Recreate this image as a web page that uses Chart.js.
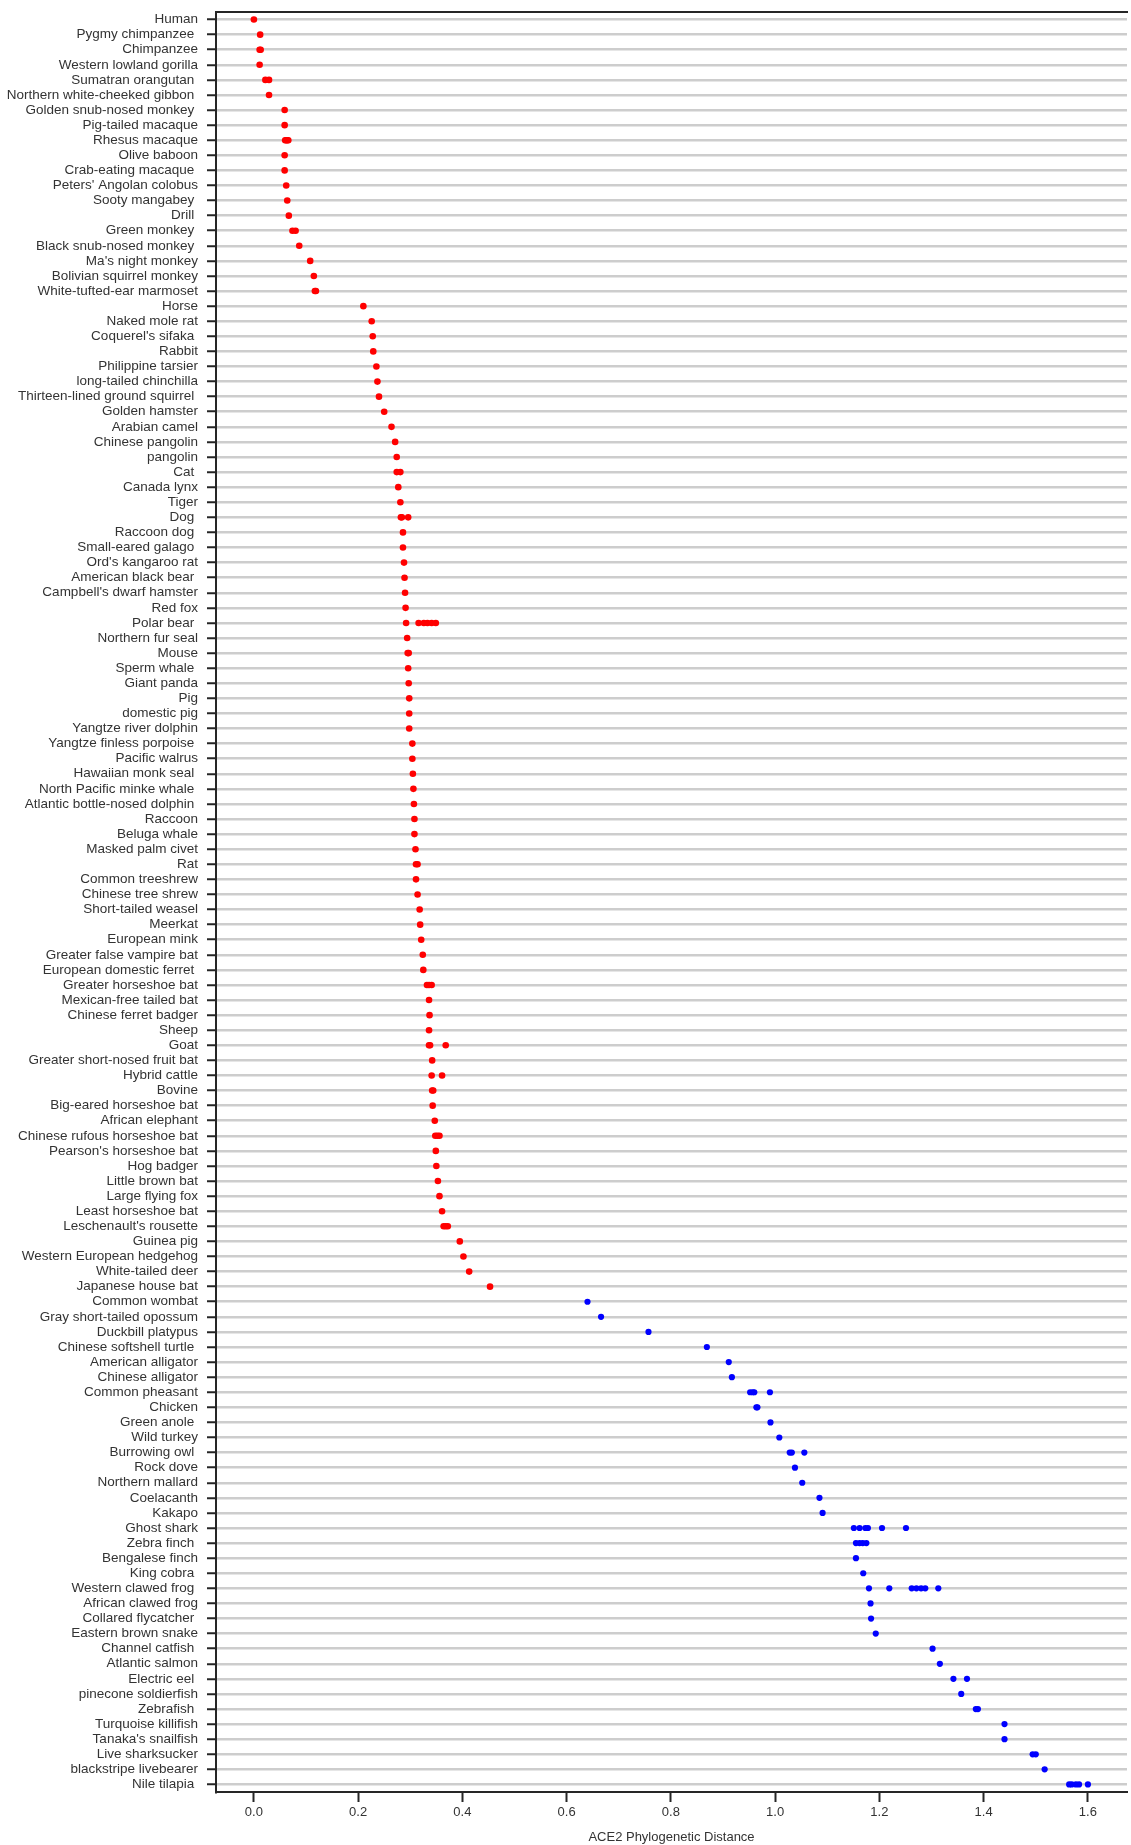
<!DOCTYPE html>
<html>
<head>
<meta charset="utf-8">
<script src="https://cdn.jsdelivr.net/npm/chart.js@4.4.0/dist/chart.umd.min.js"></script>
<style>
  body { margin: 0; background: #fff; }
</style>
</head>
<body>
<canvas id="chart" width="1131" height="1845"></canvas>
<script>
// species drawn in red (top group)
const speciesRed = [
  'Human', 'Pygmy chimpanzee ', 'Chimpanzee', 'Western lowland gorilla', 'Sumatran orangutan ',
  'Northern white-cheeked gibbon ', 'Golden snub-nosed monkey ', 'Pig-tailed macaque', 'Rhesus macaque',
  'Olive baboon', 'Crab-eating macaque ', "Peters' Angolan colobus", 'Sooty mangabey ', 'Drill ',
  'Green monkey ', 'Black snub-nosed monkey ', "Ma's night monkey", 'Bolivian squirrel monkey',
  'White-tufted-ear marmoset', 'Horse', 'Naked mole rat', "Coquerel's sifaka ", 'Rabbit',
  'Philippine tarsier', 'long-tailed chinchilla', 'Thirteen-lined ground squirrel ', 'Golden hamster',
  'Arabian camel', 'Chinese pangolin', 'pangolin', 'Cat ', 'Canada lynx', 'Tiger', 'Dog ',
  'Raccoon dog ', 'Small-eared galago ', "Ord's kangaroo rat", 'American black bear ',
  "Campbell's dwarf hamster", 'Red fox', 'Polar bear ', 'Northern fur seal', 'Mouse', 'Sperm whale ',
  'Giant panda', 'Pig', 'domestic pig', 'Yangtze river dolphin', 'Yangtze finless porpoise ',
  'Pacific walrus', 'Hawaiian monk seal ', 'North Pacific minke whale ', 'Atlantic bottle-nosed dolphin ',
  'Raccoon', 'Beluga whale', 'Masked palm civet', 'Rat', 'Common treeshrew', 'Chinese tree shrew',
  'Short-tailed weasel', 'Meerkat', 'European mink', 'Greater false vampire bat',
  'European domestic ferret ', 'Greater horseshoe bat', 'Mexican-free tailed bat', 'Chinese ferret badger',
  'Sheep', 'Goat', 'Greater short-nosed fruit bat', 'Hybrid cattle', 'Bovine', 'Big-eared horseshoe bat',
  'African elephant', 'Chinese rufous horseshoe bat', "Pearson's horseshoe bat", 'Hog badger',
  'Little brown bat', 'Large flying fox', 'Least horseshoe bat', "Leschenault's rousette", 'Guinea pig',
  'Western European hedgehog', 'White-tailed deer', 'Japanese house bat'
];
const distRed = [
  [0.0], [0.012], [0.011, 0.013], [0.011], [0.022, 0.029],
  [0.029], [0.059], [0.059], [0.060, 0.062, 0.064, 0.066],
  [0.059], [0.059], [0.062], [0.064], [0.067],
  [0.074, 0.080], [0.087], [0.108], [0.115],
  [0.117, 0.119], [0.210], [0.226], [0.228], [0.229],
  [0.235], [0.237], [0.240], [0.250],
  [0.264], [0.271], [0.274], [0.274, 0.281], [0.277], [0.281], [0.282, 0.284, 0.296],
  [0.286], [0.286], [0.288], [0.289],
  [0.290], [0.291], [0.292, 0.316, 0.326, 0.333, 0.341, 0.349], [0.294], [0.295, 0.297], [0.296],
  [0.297], [0.298], [0.298], [0.298], [0.304],
  [0.304], [0.305], [0.306], [0.307],
  [0.308], [0.308], [0.310], [0.311, 0.314], [0.311], [0.314],
  [0.318], [0.319], [0.321], [0.324],
  [0.325], [0.332, 0.336, 0.341], [0.336], [0.337],
  [0.336], [0.336, 0.338, 0.368], [0.342], [0.341, 0.361], [0.342, 0.344], [0.343],
  [0.347], [0.348, 0.352, 0.356], [0.349], [0.350],
  [0.353], [0.356], [0.361], [0.364, 0.368, 0.372], [0.395],
  [0.402], [0.413], [0.453]
];

// species drawn in blue (bottom group)
const speciesBlue = [
  'Common wombat', 'Gray short-tailed opossum', 'Duckbill platypus', 'Chinese softshell turtle ',
  'American alligator', 'Chinese alligator', 'Common pheasant', 'Chicken', 'Green anole ', 'Wild turkey',
  'Burrowing owl ', 'Rock dove', 'Northern mallard', 'Coelacanth', 'Kakapo', 'Ghost shark',
  'Zebra finch ', 'Bengalese finch', 'King cobra ', 'Western clawed frog ', 'African clawed frog',
  'Collared flycatcher ', 'Eastern brown snake', 'Channel catfish ', 'Atlantic salmon', 'Electric eel ',
  'pinecone soldierfish', 'Zebrafish ', 'Turquoise killifish', "Tanaka's snailfish", 'Live sharksucker',
  'blackstripe livebearer', 'Nile tilapia '
];
const distBlue = [
  [0.640], [0.666], [0.757], [0.869],
  [0.911], [0.917], [0.952, 0.957, 0.960, 0.990], [0.964, 0.966], [0.991], [1.008],
  [1.028, 1.032, 1.056], [1.038], [1.052], [1.085], [1.091], [1.151, 1.162, 1.173, 1.178, 1.205, 1.251],
  [1.155, 1.162, 1.168, 1.175], [1.155], [1.169], [1.180, 1.219, 1.262, 1.271, 1.280, 1.288, 1.313], [1.183],
  [1.184], [1.193], [1.302], [1.316], [1.342, 1.368],
  [1.357], [1.385, 1.389], [1.440], [1.440], [1.494, 1.500],
  [1.517], [1.564, 1.569, 1.577, 1.583, 1.600]
];

const xTicks = [0, 0.2, 0.4, 0.6, 0.8, 1.0, 1.2, 1.4, 1.6];
const xMin = -0.0727;
const xMax = 1.675;

function toPoints(names, dists) {
  const pts = [];
  names.forEach((name, i) => {
    dists[i].forEach(v => pts.push({ x: v, y: name }));
  });
  return pts;
}

Chart.defaults.font.family = "'Liberation Sans', Arial, sans-serif";
Chart.defaults.font.size = 13.5;
Chart.defaults.color = '#333';

const axisColor = '#262626';

new Chart(document.getElementById('chart'), {
  type: 'scatter',
  data: {
    labels: speciesRed.concat(speciesBlue),
    datasets: [
      {
        data: toPoints(speciesRed, distRed),
        backgroundColor: '#ff0000',
        borderWidth: 0,
        pointRadius: 3.3
      },
      {
        data: toPoints(speciesBlue, distBlue),
        backgroundColor: '#0000ff',
        borderWidth: 0,
        pointRadius: 3.1
      }
    ]
  },
  options: {
    responsive: false,
    animation: false,
    events: [],
    layout: { padding: { left: 0, right: 1, top: 0, bottom: 0 } },
    plugins: {
      legend: { display: false },
      tooltip: { enabled: false }
    },
    scales: {
      x: {
        type: 'linear',
        position: 'bottom',
        min: xMin,
        max: xMax,
        afterBuildTicks: s => { s.ticks = xTicks.map(v => ({ value: v })); },
        afterFit: s => { s.height = 53; },
        grid: { drawOnChartArea: false, tickLength: 10, tickColor: axisColor, tickWidth: 2 },
        border: { color: axisColor, width: 2 },
        ticks: { padding: 3, font: { size: 13 }, callback: v => v.toFixed(1) },
        title: {
          display: true,
          text: 'ACE2 Phylogenetic Distance',
          font: { size: 13 },
          padding: { top: 0, bottom: 0 }
        }
      },
      xTop: {
        type: 'linear',
        position: 'top',
        min: xMin,
        max: xMax,
        afterFit: s => { s.height = 12; },
        grid: { display: false, drawTicks: false },
        ticks: { display: false },
        border: { color: axisColor, width: 2 }
      },
      y: {
        type: 'category',
        offset: true,
        afterFit: s => {
          s.width = 216;
          s.paddingTop = 0;
          s.paddingBottom = 0;
        },
        grid: {
          offset: false,
          color: '#cdcdcd',
          lineWidth: 2.5,
          tickLength: 9,
          tickColor: axisColor,
          tickWidth: 2
        },
        border: { color: axisColor, width: 2 },
        ticks: { autoSkip: false, padding: 9 }
      }
    }
  }
});
</script>
</body>
</html>
